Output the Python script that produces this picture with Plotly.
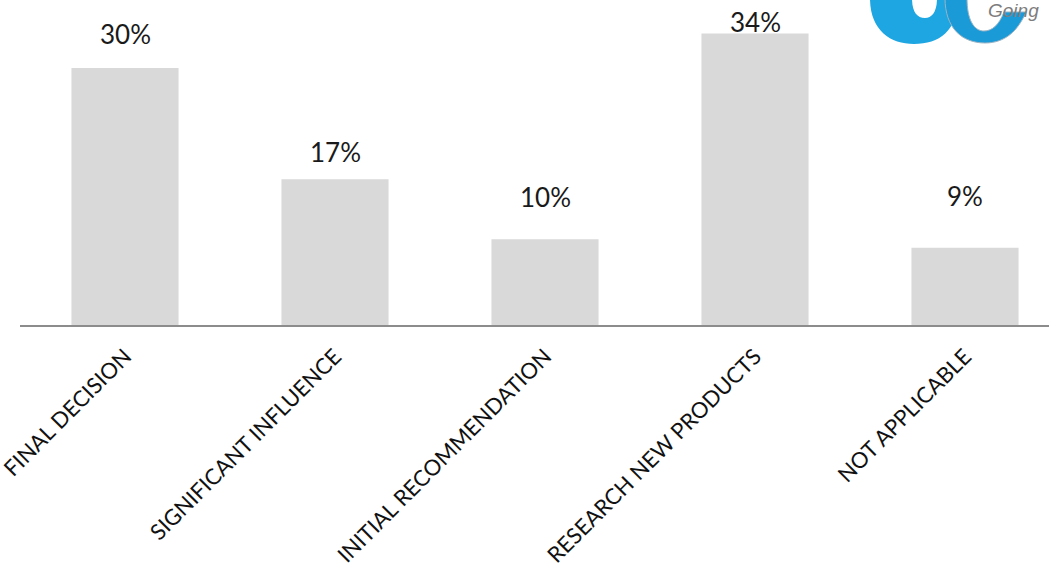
import plotly.graph_objects as go

categories = ["FINAL DECISION", "SIGNIFICANT INFLUENCE", "INITIAL RECOMMENDATION",
              "RESEARCH NEW PRODUCTS", "NOT APPLICABLE"]
values = [30, 17, 10, 34, 9]
value_labels = ["30%", "17%", "10%", "34%", "9%"]

# style: vertical offset (px) of each value label above its bar
label_offsets_px = [34, 27, 42, 12, 52]

W, H = 1049, 573
ML, MR, MT, MB = 20, 0, 0, 248

fig = go.Figure()
fig.add_trace(go.Bar(
    x=categories, y=values,
    marker=dict(color="#d9d9d9", line=dict(width=0)),
    hoverinfo="skip",
))

for c, v, t, off in zip(categories, values, value_labels, label_offsets_px):
    fig.add_annotation(x=c, y=v, text=t, showarrow=False, yshift=off,
                       xanchor="center", yanchor="middle",
                       font=dict(family="Lato", size=26, color="#1a1a1a"))

# partial logo in the top-right corner (pixel coords -> paper coords)
pw, ph = W - ML - MR, H - MT - MB
def px(x, y):
    return f"{(x - ML) / pw:.5f},{1 - (y - MT) / ph:.5f}"

left_ring = (f"M {px(870,-2)} C {px(870,30)} {px(890,44)} {px(914,44)} "
             f"C {px(940,44)} {px(958,30)} {px(958,-2)} L {px(937,-2)} "
             f"C {px(937,12)} {px(932,18)} {px(925,18)} C {px(917,18)} {px(912,12)} {px(912,-2)} Z")
right_ring = (f"M {px(945,-2)} C {px(945,28)} {px(962,43)} {px(985,43)} "
              f"C {px(1005,43)} {px(1018,31)} {px(1026,12)} L {px(1004,12)} "
              f"C {px(999,25)} {px(992,31)} {px(984,31)} C {px(974,31)} {px(967,20)} {px(967,-2)} Z")
fig.add_shape(type="path", path=left_ring, xref="paper", yref="paper",
              fillcolor="#1da6e2", line=dict(width=0))
fig.add_shape(type="path", path=right_ring, xref="paper", yref="paper",
              fillcolor="#1b9ad8", line=dict(color="#9bb3c4", width=1))
fig.add_annotation(x=(986 - ML) / pw, y=1 - (10 - MT) / ph, xref="paper", yref="paper",
                   text="<i>Going</i>", showarrow=False, xanchor="left", yanchor="middle",
                   font=dict(family="Liberation Sans", size=19, color="#7d7d7d"))

fig.update_layout(
    width=W, height=H,
    margin=dict(l=ML, r=MR, t=MT, b=MB),
    paper_bgcolor="white", plot_bgcolor="white",
    bargap=0.49,
    showlegend=False,
    xaxis=dict(type="category", range=[-0.5, 4.4], showline=True,
               linecolor="#8c8c8c", linewidth=2, ticks="", showgrid=False,
               tickangle=-45, ticklabelstandoff=8,
               tickfont=dict(family="Lato", size=22, color="#111111"),
               automargin=False, fixedrange=True),
    yaxis=dict(range=[0, 37.92], visible=False, showgrid=False, zeroline=False,
               fixedrange=True),
)

fig.write_html("out.html", config={"displayModeBar": False},
               post_script="document.body.style.margin='0';")
